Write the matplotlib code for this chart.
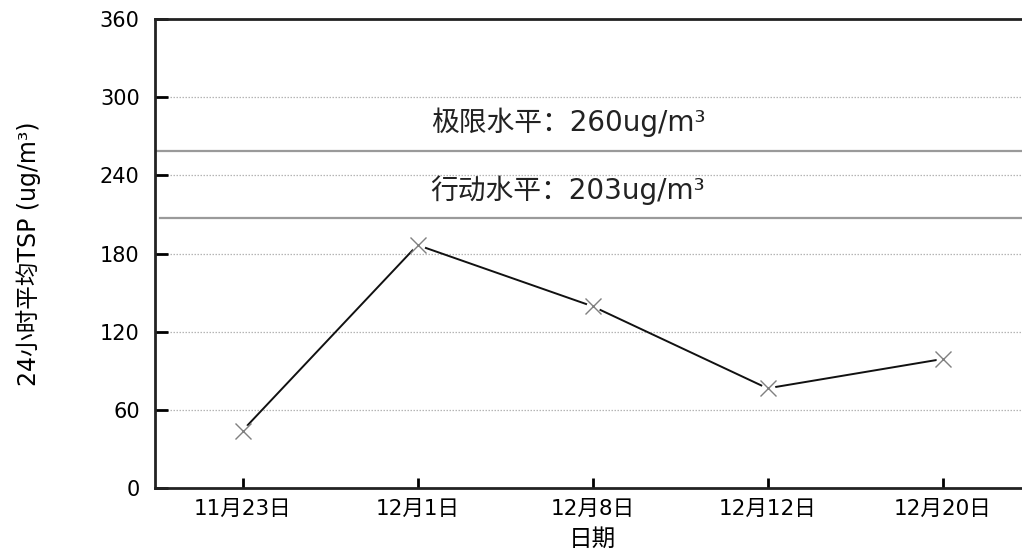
import numpy as np
import matplotlib
matplotlib.use("Agg")
import matplotlib.pyplot as plt

plt.rcParams['font.family'] = ['DejaVu Sans', 'Noto Sans CJK SC']

# data
dates = ['11月23日', '12月1日', '12月8日', '12月12日', '12月20日']
tsp = [44, 186.5, 139.5, 76.5, 99]

# reference levels (where the lines are drawn) and their labels
level_values = [258.5, 207.5]
level_labels = ['极限水平：260ug/m³', '行动水平：203ug/m³']
level_text_y = [281, 229]

y_ticks = [0, 60, 120, 180, 240, 300, 360]

fig = plt.figure(figsize=(10.22, 5.55), dpi=100)
# the plot area runs a little past the right edge of the picture
ax = fig.add_axes([155 / 1022, 1 - 488 / 555, (1030 - 155) / 1022, (488 - 19) / 555])

x = np.arange(len(dates))

# dotted grid
for yv in y_ticks[1:-1]:
    ax.axhline(yv, color='#b5b5b5', linestyle=(0, (1.2, 1.2)), linewidth=0.9, zorder=1)

# limit lines
ax.axhline(level_values[0], color='#9a9a9a', linewidth=1.6, zorder=2)
ax.axhline(level_values[1], xmin=0.006, color='#9a9a9a', linewidth=1.6, zorder=2)
for lbl, ty in zip(level_labels, level_text_y):
    ax.text(1.86, ty, lbl, ha='center', va='center', fontsize=20, color='#222222')

ax.plot(x, tsp, color='#111111', linewidth=1.4, zorder=3)
# white halo leaves a small gap between line and marker, like the original
ax.plot(x, tsp, linestyle='none', marker='o', markersize=10, markerfacecolor='white',
        markeredgecolor='none', zorder=4)
ax.plot(x, tsp, linestyle='none', marker='x', markersize=11, markeredgewidth=1.0,
        color='#808080', zorder=5)

ax.set_xlim(-0.5, 4.5)
ax.set_ylim(0, 360)
ax.set_xticks(x)
ax.set_xticklabels(dates)
ax.set_yticks(y_ticks)
ax.tick_params(axis='y', direction='in', length=9, width=2, labelsize=15, pad=11)
ax.tick_params(axis='x', direction='in', length=7.5, width=2, labelsize=15.5, pad=8)

for side in ['left', 'bottom', 'top']:
    ax.spines[side].set_linewidth(2)
    ax.spines[side].set_color('#222222')
ax.spines['right'].set_visible(False)

ax.set_xlabel('日期', fontsize=17)
ax.xaxis.set_label_coords(0.5, -0.082)
ax.set_ylabel('24小时平均TSP (ug/m³)', fontsize=17, va='center')
ax.yaxis.set_label_coords(-0.145, 0.5)

fig.savefig('out.png', dpi=100)
